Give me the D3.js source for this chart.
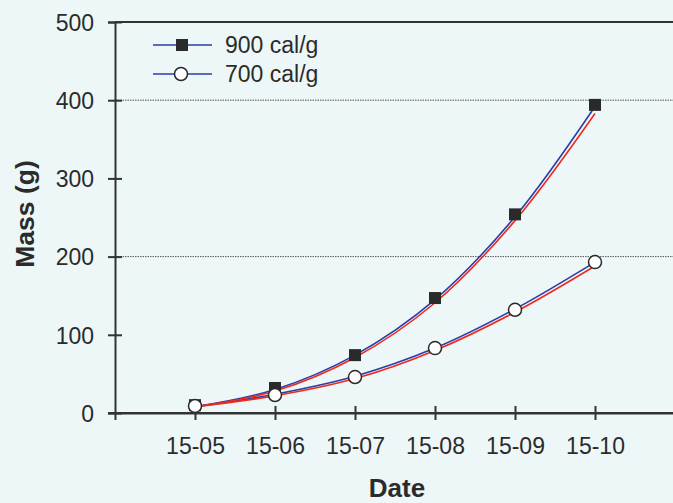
<!DOCTYPE html>
<html><head><meta charset="utf-8">
<script src="https://cdn.jsdelivr.net/npm/d3@7"></script>
<style>
html,body{margin:0;padding:0;background:#edf7f8;}
svg{display:block;font-family:"Liberation Sans",Arial,sans-serif;}
</style></head>
<body>
<svg id="chart" width="673" height="503"></svg>
<script>
const dates = ["15-05","15-06","15-07","15-08","15-09","15-10"];
const mass900 = [10, 32, 74, 147, 254, 394];
const mass700 = [9, 23, 46, 83, 132, 193];
const fitBlue900 = [8, 30, 74, 145, 251, 392];
const fitRed900 = [8, 28, 71, 141, 246, 383];
const fitBlue700 = [8, 24, 47, 83, 133, 193];
const fitRed700 = [8, 22, 44, 80, 129, 188];
const yTicks = [0, 100, 200, 300, 400, 500];
const gridValues = [200, 400];
const seriesNames = ["900 cal/g", "700 cal/g"];

const svg = d3.select("#chart");
const W = 673, H = 503;
const x0 = 115, yBottom = 413, yTop = 22;
const x = d3.scaleLinear().domain([0, 7]).range([x0, x0 + 560]);
const y = d3.scaleLinear().domain([0, 500]).range([yBottom, yTop]);
const textCol = "#2b2b2b", axisCol = "#333";
const fs = 23;

svg.append("rect").attr("width", W).attr("height", H).attr("fill", "#edf7f8");

// gridlines
svg.selectAll(".grid").data(gridValues).join("line")
  .attr("x1", x0).attr("x2", W).attr("y1", d => y(d)).attr("y2", d => y(d))
  .attr("stroke", "#555").attr("stroke-width", 1).attr("stroke-dasharray", "1.5,1");

// top border
svg.append("line").attr("x1", x0).attr("x2", W).attr("y1", y(500)).attr("y2", y(500))
  .attr("stroke", axisCol).attr("stroke-width", 2);

// y axis
const yAxis = d3.axisLeft(y).tickValues(yTicks).tickSize(7).tickPadding(10).tickFormat(d3.format("d"));
const gy = svg.append("g").attr("transform", `translate(${x0},0)`).call(yAxis);
gy.select(".domain").attr("stroke", axisCol).attr("stroke-width", 2);
gy.selectAll(".tick line").attr("stroke", axisCol).attr("stroke-width", 2).attr("x2", -7).attr("x1", 7);
gy.selectAll(".tick text").attr("fill", textCol).attr("font-size", fs).attr("dy", "0.36em").attr("x", -21);

// x axis
const xAxis = d3.axisBottom(x).tickValues(d3.range(1, dates.length + 1)).tickSize(7).tickPadding(14)
  .tickFormat(i => dates[i - 1]);
const gx = svg.append("g").attr("transform", `translate(0,${yBottom})`).call(xAxis);
gx.select(".domain").attr("stroke", axisCol).attr("stroke-width", 2);
gx.selectAll(".tick line").attr("stroke", axisCol).attr("stroke-width", 2).attr("y1", -7).attr("y2", 7);
gx.selectAll(".tick text").attr("fill", textCol).attr("font-size", fs).attr("y", 25).attr("dy", "0.71em");
// extend x axis line to right edge
svg.append("line").attr("x1", x0 - 7).attr("x2", W).attr("y1", yBottom).attr("y2", yBottom)
  .attr("stroke", axisCol).attr("stroke-width", 2);

// fitted curves
const line = d3.line().x((d, i) => x(i + 1)).y(d => y(d)).curve(d3.curveCatmullRom.alpha(0.5));
[[fitBlue900, "#2b3ea8"], [fitBlue700, "#2b3ea8"], [fitRed900, "#ee2a1e"], [fitRed700, "#ee2a1e"]]
  .forEach(([vals, col]) => {
    svg.append("path").datum(vals).attr("d", line).attr("fill", "none")
      .attr("stroke", col).attr("stroke-width", 1.6);
  });

// markers
svg.selectAll(".sq").data(mass900).join("rect")
  .attr("x", (d, i) => x(i + 1) - 6).attr("y", d => y(d) - 6).attr("width", 12).attr("height", 12)
  .attr("fill", "#2a2a2a");
svg.selectAll(".ci").data(mass700).join("circle")
  .attr("cx", (d, i) => x(i + 1)).attr("cy", d => y(d)).attr("r", 6.5)
  .attr("fill", "#ffffff").attr("stroke", "#2a2a2a").attr("stroke-width", 1.5);

// legend
const lg = svg.append("g");
const legY = [45, 74];
seriesNames.forEach((name, i) => {
  lg.append("line").attr("x1", 153).attr("x2", 212).attr("y1", legY[i]).attr("y2", legY[i])
    .attr("stroke", "#2b3ea8").attr("stroke-width", 1.6);
  if (i === 0) {
    lg.append("rect").attr("x", 176).attr("y", legY[i] - 6).attr("width", 12).attr("height", 12).attr("fill", "#2a2a2a");
  } else {
    lg.append("circle").attr("cx", 181).attr("cy", legY[i]).attr("r", 6.5).attr("fill", "#fff")
      .attr("stroke", "#2a2a2a").attr("stroke-width", 1.5);
  }
  lg.append("text").attr("x", 225).attr("y", legY[i]).attr("dy", "0.36em")
    .attr("font-size", fs).attr("fill", textCol).text(name);
});

// axis titles
svg.append("text").attr("transform", `translate(34,214) rotate(-90)`)
  .attr("text-anchor", "middle").attr("font-size", 26.5).attr("font-weight", "bold").attr("fill", textCol)
  .text("Mass (g)");
svg.append("text").attr("x", 397).attr("y", 497).attr("text-anchor", "middle")
  .attr("font-size", 26).attr("font-weight", "bold").attr("fill", textCol).text("Date");
</script>
</body></html>
